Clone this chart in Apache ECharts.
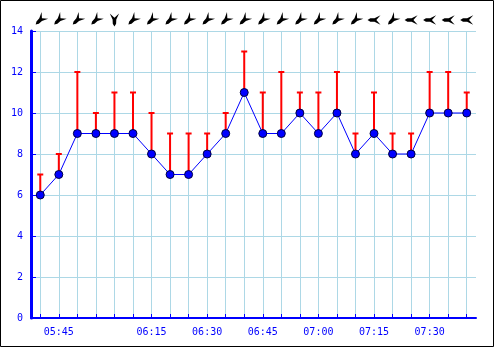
<!DOCTYPE html>
<html><head><meta charset="utf-8">
<script src="https://cdn.jsdelivr.net/npm/echarts@6/dist/echarts.min.js"></script>
<style>html,body{margin:0;padding:0;background:#fff}#c{width:495px;height:348px}</style>
</head><body><div id="c"></div>
<script>
const times = ["05:39","05:45","05:51","05:57","06:03","06:09","06:15","06:20","06:25","06:30","06:35","06:40","06:45","06:50","06:55","07:00","07:05","07:10","07:15","07:20","07:25","07:30","07:35","07:40"];
const tickLabels = ["05:45","06:15","06:30","06:45","07:00","07:15","07:30"];
const speed = [6,7,9,9,9,9,8,7,7,8,9,11,9,9,10,9,10,8,9,8,8,10,10,10];
const gust = [7,8,12,10,11,11,10,9,9,9,10,13,11,12,11,11,12,9,11,9,9,12,12,11];
const windDir = [45,45,45,45,0,45,45,45,45,45,45,45,45,45,45,45,45,45,90,45,90,90,90,90];
const yMin = 0, yMax = 14, yStep = 2;

const BLUE = '#0000ff', GRID = '#add8e6', RED = '#ff0000';
const FONT = 'DejaVu Sans Mono';
const arrowPath = 'path://M-5,-6 L-2,0.5 L-1.8,5 L0,8 L1.8,5 L2,0.5 L5,-6 L0,-1.5 Z';

const chart = echarts.init(document.getElementById('c'));
chart.setOption({
  animation: false,
  backgroundColor: '#fff',
  graphic: [{type:'rect', silent:true, shape:{x:0.5,y:0.5,width:493,height:346}, style:{fill:'none', stroke:'#000', lineWidth:1}}],
  grid: [
    {left:31, right:19, top:31, bottom:30},
    {left:31, right:19, top:10, height:20}
  ],
  xAxis: [{
    type:'category', data: times, boundaryGap: true,
    axisLine:{lineStyle:{color:BLUE, width:2}},
    axisTick:{show:true, inside:true, length:4, interval:0, alignWithLabel:true, lineStyle:{color:BLUE, width:1}},
    axisLabel:{interval:0, color:BLUE, fontFamily:FONT, fontSize:10, margin:9,
      formatter: v => tickLabels.includes(v) ? v : ''},
    splitLine:{show:true, interval:0, alignWithLabel:true, lineStyle:{color:GRID, width:1}}
  },{
    type:'category', data: times, boundaryGap: true, gridIndex:1, show:false
  }],
  yAxis: [{
    type:'value', min:yMin, max:yMax, interval:yStep,
    axisLine:{show:true, lineStyle:{color:BLUE, width:3}},
    axisTick:{show:true, inside:true, length:5, lineStyle:{color:BLUE, width:1}},
    axisLabel:{color:BLUE, fontFamily:FONT, fontSize:10, margin:8},
    splitLine:{show:true, lineStyle:{color:GRID, width:1}}
  },{
    type:'value', min:0, max:1, gridIndex:1, show:false
  }],
  series: [
    {
      type:'custom', z:2,
      data: speed.map((s,i)=>[i, s, gust[i]]),
      renderItem: function(params, api){
        const x = api.value(0);
        const p0 = api.coord([x, api.value(1)]);
        const p1 = api.coord([x, api.value(2)]);
        return {type:'group', children:[
          {type:'line', shape:{x1:p0[0], y1:p0[1], x2:p1[0], y2:p1[1]}, style:{stroke:RED, lineWidth:2}},
          {type:'line', shape:{x1:p1[0]-3, y1:p1[1], x2:p1[0]+3, y2:p1[1]}, style:{stroke:RED, lineWidth:2}}
        ]};
      }
    },
    {
      type:'line', z:3, data: speed,
      symbol:'circle', symbolSize:8,
      itemStyle:{color:BLUE, borderColor:'#000040', borderWidth:1},
      lineStyle:{color:BLUE, width:1}
    },
    {
      type:'scatter', xAxisIndex:1, yAxisIndex:1,
      data: windDir.map((d,i)=>({value:[i,0.5], symbolRotate:-d})),
      symbol: arrowPath, symbolSize:13, symbolKeepAspect:true,
      itemStyle:{color:'#000', opacity:1}
    }
  ]
});
</script></body></html>
